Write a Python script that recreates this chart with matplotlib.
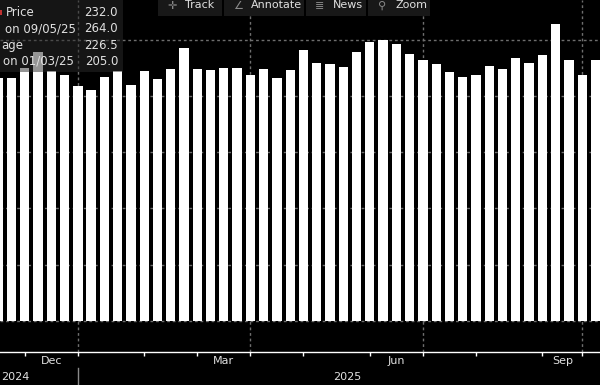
import matplotlib
matplotlib.use("Agg")
import matplotlib.pyplot as plt
import matplotlib.dates as mdates
from matplotlib.patches import Rectangle
from matplotlib.transforms import blended_transform_factory
import pandas as pd

# weekly bars, week ending Friday
weeks = pd.date_range("2024-11-15", periods=46, freq="W-FRI")
prices = [216, 216, 225, 239, 222.5, 219, 209, 205, 217, 222.5,
          210, 222, 215, 224, 243, 224, 223, 225, 225, 219,
          224, 216, 223, 241, 229, 228, 226, 239, 248, 250,
          246, 237, 232, 228, 221, 217, 219, 227, 224, 234,
          229, 236, 264, 232, 219, 232]
average = 226.5

month_bounds = pd.to_datetime(["2024-11-29", "2024-12-27", "2025-01-31", "2025-02-28",
                               "2025-03-28", "2025-04-25", "2025-05-30", "2025-06-27",
                               "2025-07-25", "2025-08-29", "2025-09-19"])
quarter_bounds = month_bounds[[1, 4, 7, 10]]
month_names = ["Dec", "Mar", "Jun", "Sep"]
month_spans = [(0, 1), (3, 4), (6, 7), (9, 10)]
years = ["2024", "2025"]

W, H = 600, 385
TXT = "#e0e0e0"
GRID = "#6e6e6e"


def fx(x):
    return x / W


def fy(y):
    return 1 - y / H


def main():
    fig = plt.figure(figsize=(6, 3.85), dpi=100, facecolor="black")
    ax = fig.add_axes([0, fy(352), 1, 352 / H])
    ax.set_facecolor("black")

    ax.bar(weeks, prices, width=4.9, color="white", zorder=2)

    for v in range(0, 251, 50):
        ax.axhline(v, color=GRID, lw=1, ls=(0, (2, 2)), zorder=1)
    for d in quarter_bounds:
        ax.axvline(d, color=GRID, lw=1, ls=(0, (2, 2)), zorder=1)

    d0 = mdates.date2num(weeks[1])
    ax.set_xlim(d0 - 6.07, d0 + 310.4)
    ax.set_ylim(-27.6, 285.3)

    ax.set_xticks(month_bounds)
    ax.set_xticklabels([])
    ax.tick_params(axis="x", length=3, width=1, color="white", direction="out")
    ax.yaxis.set_visible(False)
    for s in ["top", "left", "right"]:
        ax.spines[s].set_visible(False)
    ax.spines["bottom"].set_color("white")
    ax.spines["bottom"].set_linewidth(1)

    # month labels between boundaries
    for name, (a, b) in zip(month_names, month_spans):
        mid = month_bounds[a] + (month_bounds[b] - month_bounds[a]) / 2
        ax.annotate(name, xy=(mid, 0), xycoords=("data", "axes fraction"),
                    xytext=(0, -9.5), textcoords="offset pixels",
                    ha="center", va="center", color=TXT, fontsize=8)

    # year row
    fig.text(fx(1), fy(377), years[0], ha="left", va="center", color=TXT, fontsize=8)
    fig.text(fx(347), fy(377), years[1], ha="center", va="center", color=TXT, fontsize=8)
    tr = blended_transform_factory(ax.transData, fig.transFigure)
    ax.plot([quarter_bounds[0]] * 2, [fy(368), 0], color="#8a8a8a", lw=1,
            transform=tr, clip_on=False)

    # stats box, top left (labels are cut at the chart's left edge)
    fig.add_artist(Rectangle((0, fy(72)), fx(123), 72 / H, transform=fig.transFigure,
                             facecolor="#2a2a2a", alpha=0.5, edgecolor="none", zorder=5))
    i_hi = prices.index(max(prices))
    i_lo = prices.index(min(prices))
    rows = [("Price", 6, prices[-1]),
            ("on " + weeks[i_hi].strftime("%m/%d/%y"), 5, prices[i_hi]),
            ("age", 1, average),
            ("on " + weeks[i_lo].strftime("%m/%d/%y"), 3, prices[i_lo])]
    for k, (lab, x0, val) in enumerate(rows):
        y = 12.5 + k * 16.3
        fig.text(fx(x0), fy(y), lab, ha="left", va="center", color=TXT,
                 fontsize=8.5, zorder=6)
        fig.text(fx(118), fy(y), "%.1f" % val, ha="right", va="center", color=TXT,
                 fontsize=8.5, zorder=6)
    fig.add_artist(Rectangle((0, fy(15)), fx(1.5), 5 / H, transform=fig.transFigure,
                             facecolor="#c03030", edgecolor="none", zorder=6))

    # toolbar
    buttons = [("\u271b", "Track", 158, 222), ("\u2220", "Annotate", 224, 304),
               ("\u2263", "News", 306, 366), ("\u26b2", "Zoom", 368, 430)]
    for icon, lab, x0, x1 in buttons:
        fig.add_artist(Rectangle((fx(x0), fy(16)), fx(x1 - x0), 16 / H,
                                 transform=fig.transFigure, facecolor="#181818",
                                 edgecolor="none", zorder=5))
        fig.text(fx(x0 + 14), fy(6), icon, ha="center", va="center", color="#8a8a8a",
                 fontsize=8, zorder=6, family=["DejaVu Sans", "Noto Sans"])
        fig.text(fx(x0 + 27), fy(5.5), lab, ha="left", va="center", color=TXT,
                 fontsize=8, zorder=6)

    fig.savefig("out.png", dpi=100, facecolor="black")


if __name__ == "__main__":
    main()
